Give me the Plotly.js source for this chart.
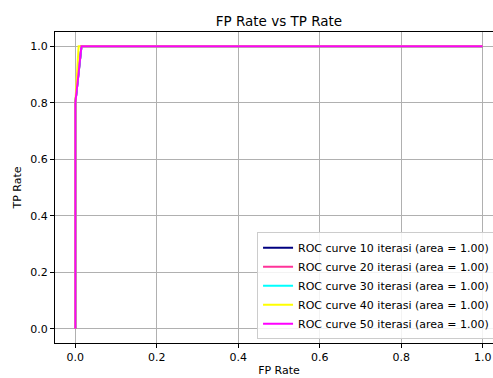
<!DOCTYPE html>
<html><head><meta charset="utf-8">
<script src="https://cdn.plot.ly/plotly-3.0.1.min.js"></script>
<style>html,body{margin:0;padding:0;overflow:hidden;background:#fff;width:493px;height:378px}</style>
</head><body><div id="c"></div>
<script>
const names = ["ROC curve 10 iterasi (area = 1.00)","ROC curve 20 iterasi (area = 1.00)","ROC curve 30 iterasi (area = 1.00)","ROC curve 40 iterasi (area = 1.00)","ROC curve 50 iterasi (area = 1.00)"];
const colors = ["navy","#ff3399","aqua","yellow","magenta"];
const fpr10 = [0, 0, 0.015, 1];
const tpr10 = [0, 0.8, 1, 1];
const fpr20 = [0, 0, 0.015, 1];
const tpr20 = [0, 0.8, 1, 1];
const fpr30 = [0, 0, 0.015, 1];
const tpr30 = [0, 0.8, 1, 1];
const fpr40 = [0, 0, 0.008, 1];
const tpr40 = [0, 0.8, 1, 1];
const fpr50 = [0, 0, 0.015, 1];
const tpr50 = [0, 0.8, 1, 1];
const tickVals = [0,0.2,0.4,0.6,0.8,1.0];
const tickText = ['0.0','0.2','0.4','0.6','0.8','1.0'];
const fprs=[fpr10,fpr20,fpr30,fpr40,fpr50], tprs=[tpr10,tpr20,tpr30,tpr40,tpr50];
const data = names.map((n,i)=>({x:fprs[i],y:tprs[i],type:'scatter',mode:'lines',name:n,line:{color:colors[i],width:2}}));
const F = {family:'DejaVu Sans', size:11, color:'#000'};
Plotly.newPlot('c', data, {
  width:510, height:378,
  margin:{l:55,r:7,t:32,b:35},
  paper_bgcolor:'#fff', plot_bgcolor:'#fff',
  font:F,
  title:{text:'FP Rate vs TP Rate', font:{family:'DejaVu Sans',size:13.5,color:'#000'}, x:0.547, xanchor:'center', y:0.945, yanchor:'middle'},
  xaxis:{range:[-0.05,1.05], tickvals:tickVals, ticktext:tickText, showgrid:true, gridcolor:'#b0b0b0', gridwidth:1, zeroline:false, showline:true, linecolor:'#000', linewidth:1, mirror:true, ticks:'outside', ticklen:4, tickcolor:'#000', tickfont:F,
    title:{text:'FP Rate', font:F, standoff:3}},
  yaxis:{range:[-0.05,1.05], tickvals:tickVals, ticktext:tickText, showgrid:true, gridcolor:'#b0b0b0', gridwidth:1, zeroline:false, showline:true, linecolor:'#000', linewidth:1, mirror:true, ticks:'outside', ticklen:4, tickcolor:'#000', tickfont:F,
    title:{text:'TP Rate', font:F, standoff:6}},
  showlegend:true,
  legend:{x:0.451, y:0.012, xanchor:'left', yanchor:'bottom', bgcolor:'rgba(255,255,255,0.85)', bordercolor:'#ccc', borderwidth:1, font:F, tracegroupgap:0, itemwidth:30}
}, {staticPlot:true});
</script></body></html>
